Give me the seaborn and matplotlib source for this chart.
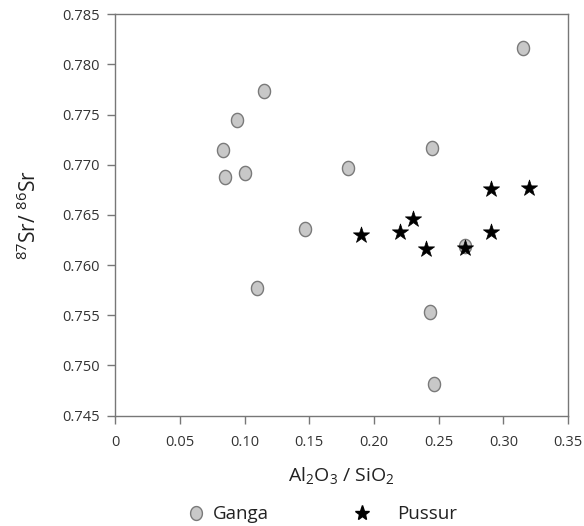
import matplotlib
matplotlib.use("Agg")
import matplotlib.pyplot as plt
import seaborn as sns
import pandas as pd
import numpy as np
from matplotlib.path import Path
from matplotlib.lines import Line2D

ganga_x = [0.083, 0.085, 0.094, 0.100, 0.115, 0.110, 0.147, 0.180, 0.245, 0.315, 0.243, 0.246, 0.270]
ganga_y = [0.7715, 0.7688, 0.7745, 0.7692, 0.7773, 0.7577, 0.7636, 0.7697, 0.7717, 0.7816, 0.7553, 0.7481, 0.7619]
pussur_x = [0.19, 0.22, 0.23, 0.24, 0.27, 0.29, 0.29, 0.32]
pussur_y = [0.7630, 0.7633, 0.7646, 0.7616, 0.7617, 0.7676, 0.7633, 0.7677]
groups = ["Ganga", "Pussur"]
x_ticks = [0, 0.05, 0.10, 0.15, 0.20, 0.25, 0.30, 0.35]
x_ticklabels = ["0", "0.05", "0.10", "0.15", "0.20", "0.25", "0.30", "0.35"]
y_ticks = [0.745, 0.750, 0.755, 0.760, 0.765, 0.770, 0.775, 0.780, 0.785]

sns.set_style("white")
plt.rcParams['font.family'] = ['Open Sans', 'DejaVu Sans']
plt.rcParams['mathtext.default'] = 'regular'

df = pd.DataFrame({
    "x": ganga_x + pussur_x,
    "y": ganga_y + pussur_y,
    "group": [groups[0]] * len(ganga_x) + [groups[1]] * len(pussur_x),
})

t = np.linspace(0, 2 * np.pi, 60)
ell = Path(np.column_stack([0.85 * np.cos(t), np.sin(t)]), closed=True)

fig = plt.figure(figsize=(5.84, 5.26), dpi=100)
ax = fig.add_axes([0.197, 0.21, 0.776, 0.763])

g = df[df.group == "Ganga"]
p = df[df.group == "Pussur"]
sns.scatterplot(data=g, x="x", y="y", marker=ell, s=105, color="#c8c8c8",
                edgecolor="#7a7a7a", linewidth=1.0, ax=ax, zorder=3)
sns.scatterplot(data=p, x="x", y="y", marker="*", s=150, color="black",
                edgecolor="black", linewidth=0.5, ax=ax, zorder=4)

ax.set_xlim(0, 0.35)
ax.set_ylim(0.745, 0.785)
ax.set_xticks(x_ticks)
ax.set_xticklabels(x_ticklabels)
ax.set_yticks(y_ticks)
ax.set_yticklabels([f"{v:.3f}" for v in y_ticks])
for s in ax.spines.values():
    s.set_color("#777777")
    s.set_linewidth(1.0)
ax.tick_params(axis="both", bottom=True, left=True, direction="out", length=6, width=1.0,
               color="#777777", labelsize=10.5, labelcolor="#333333", pad=5)
ax.tick_params(axis="x", pad=8)

ax.set_xlabel("Al$_2$O$_3$ / SiO$_2$", fontsize=14, color="#222222", labelpad=11)
ax.set_ylabel("$^{87}$Sr/ $^{86}$Sr", fontsize=15, color="#222222", labelpad=15)

fs = 13.5
em = fs * 100 / 72.0
h_ganga = Line2D([], [], linestyle="none", marker=ell, markersize=10, markerfacecolor="#c8c8c8",
                 markeredgecolor="#7a7a7a", markeredgewidth=1.0)
h_pussur = Line2D([], [], linestyle="none", marker="*", markersize=11, color="black")

leg1 = fig.legend([h_ganga], [groups[0]], loc="center left",
                  bbox_to_anchor=((196 - em / 2) / 584, 0.022), frameon=False, fontsize=fs,
                  handlelength=1.0, handletextpad=(17 - em / 2) / em, borderpad=0,
                  borderaxespad=0, labelcolor="#222222")
leg2 = fig.legend([h_pussur], [groups[1]], loc="center left",
                  bbox_to_anchor=((362 - em / 2) / 584, 0.022), frameon=False, fontsize=fs,
                  handlelength=1.0, handletextpad=(35 - em / 2) / em, borderpad=0,
                  borderaxespad=0, labelcolor="#222222")

fig.savefig("out.png", dpi=100)
